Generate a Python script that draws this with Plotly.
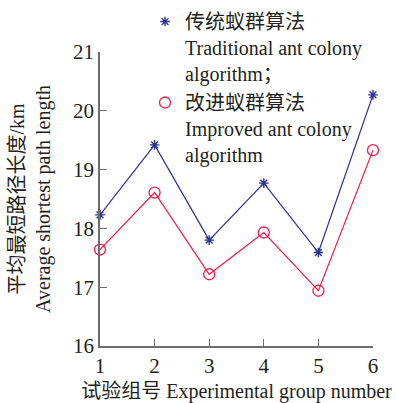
import plotly.graph_objects as go

# Average shortest path length (km) for each experimental group
groups = [1, 2, 3, 4, 5, 6]
traditional = [18.23, 19.42, 17.80, 18.77, 17.59, 20.27]
improved = [17.64, 18.61, 17.22, 17.93, 16.94, 19.33]

name_traditional = "传统蚁群算法<br>Traditional ant colony<br>algorithm；"
name_improved = "改进蚁群算法<br>Improved ant colony<br>algorithm"

blue = "#2e3192"
red = "#ec1c4b"
axis_color = "#6d6d6d"
font_family = "Liberation Serif, Times New Roman, Noto Sans CJK SC, serif"

star = dict(symbol="asterisk-open", size=8, color=blue, line=dict(color=blue, width=1.4))
ring = dict(symbol="circle-open", size=11, color=red, line=dict(color=red, width=1.3))

fig = go.Figure()

# data lines (legend drawn from marker-only entries below)
fig.add_trace(go.Scatter(
    x=groups, y=traditional, mode="lines+markers", showlegend=False,
    line=dict(color=blue, width=1.2), marker=star, cliponaxis=False,
))
fig.add_trace(go.Scatter(
    x=groups, y=improved, mode="lines+markers", showlegend=False,
    line=dict(color=red, width=1.2), marker=ring, cliponaxis=False,
))

# legend entries showing the markers only
fig.add_trace(go.Scatter(x=[None], y=[None], mode="markers", name=name_traditional, marker=star))
fig.add_trace(go.Scatter(x=[None], y=[None], mode="markers", name=name_improved, marker=ring))

fig.update_layout(
    width=396, height=403,
    margin=dict(l=100, r=23, t=52, b=57, autoexpand=False),
    paper_bgcolor="white", plot_bgcolor="white",
    font=dict(family=font_family, size=20, color="#231f20"),
    legend=dict(
        x=0.165, y=1.17, xanchor="left", yanchor="top",
        bgcolor="rgba(0,0,0,0)", valign="top",
        itemwidth=30, tracegroupgap=0,
        font=dict(family=font_family, size=20, color="#231f20"),
    ),
    xaxis=dict(
        range=[1, 6], tickvals=groups, ticktext=[str(g) for g in groups],
        showgrid=False, zeroline=False, showline=True, linecolor=axis_color, linewidth=1.5,
        ticks="inside", ticklen=7, tickcolor=axis_color, tickwidth=1.2,
        ticklabelstandoff=0, automargin=False,
        title=dict(text="试验组号 Experimental group number", standoff=12,
                   font=dict(family=font_family, size=20)),
        tickfont=dict(family=font_family, size=21),
    ),
    yaxis=dict(
        range=[16, 21], tickvals=[16, 17, 18, 19, 20, 21],
        showgrid=False, zeroline=False, showline=True, linecolor=axis_color, linewidth=1.5,
        ticks="inside", ticklen=7, tickcolor=axis_color, tickwidth=1.2,
        automargin=False,
        title=dict(text="平均最短路径长度/km<br>Average shortest path length", standoff=17,
                   font=dict(family=font_family, size=20)),
        tickfont=dict(family=font_family, size=21),
    ),
)

fig.write_html("out.html")
